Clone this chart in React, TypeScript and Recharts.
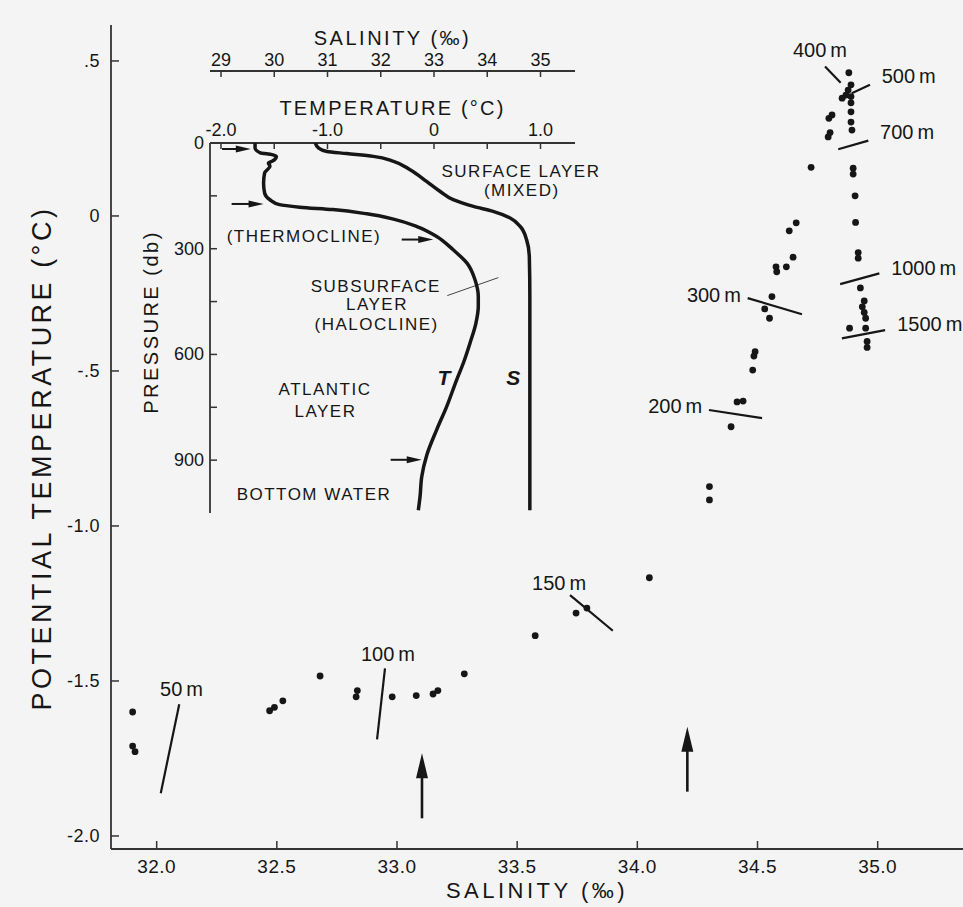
import { ComposedChart, Scatter, XAxis, YAxis, ReferenceLine, ReferenceDot } from "recharts"

const FONT = "'Liberation Sans', Arial, Helvetica, sans-serif"
const INK = "#161616"
const BG = "#f4f4f4"

// T-S diagram: salinity (‰) and potential temperature (°C) of each sample
const salinity = [
  31.9, 31.9, 31.91, 32.47, 32.49, 32.525, 32.68, 32.83, 32.835, 32.98, 33.08, 33.15, 33.17, 33.28,
  33.575, 33.745, 33.79, 34.05,
  34.3, 34.3, 34.39, 34.415, 34.44, 34.49, 34.485, 34.48, 34.56, 34.53, 34.55, 34.577, 34.58, 34.62,
  34.648, 34.632, 34.661, 34.723,
  34.88, 34.889, 34.877, 34.868, 34.852, 34.889, 34.889, 34.889, 34.81, 34.797, 34.802, 34.794, 34.889,
  34.893, 34.898, 34.898, 34.906, 34.908, 34.919, 34.919, 34.928, 34.944, 34.936, 34.944, 34.95, 34.883,
  34.95, 34.956, 34.956,
]
const potentialTemp = [
  -1.6, -1.71, -1.728, -1.596, -1.585, -1.564, -1.484, -1.551, -1.531, -1.551, -1.547, -1.542, -1.531, -1.477,
  -1.354, -1.281, -1.265, -1.167,
  -0.873, -0.916, -0.68, -0.6, -0.597, -0.438, -0.452, -0.497, -0.26, -0.3, -0.33, -0.164, -0.18, -0.164,
  -0.133, -0.048, -0.022, 0.157,
  0.462, 0.423, 0.406, 0.39, 0.38, 0.385, 0.365, 0.336, 0.326, 0.315, 0.269, 0.255, 0.303,
  0.277, 0.154, 0.135, 0.065, -0.021, -0.118, -0.136, -0.232, -0.274, -0.293, -0.311, -0.33, -0.362,
  -0.362, -0.405, -0.424,
]
const tsPoints = salinity.map((s, i) => ({ s, t: potentialTemp[i] }))

const salinityTicks = [32, 32.5, 33, 33.5, 34, 34.5, 35]
const tempTicks = [0.5, 0, -0.5, -1, -1.5, -2]
const tempTickLabels = [".5", "0", "-.5", "-1.0", "-1.5", "-2.0"]

// depth marks along the T-S curve
const depthNames = ["50\u2009m", "100\u2009m", "150\u2009m", "200\u2009m", "300\u2009m", "400\u2009m", "500\u2009m", "700\u2009m", "1000\u2009m", "1500\u2009m"]
const depthStartS = [32.094, 32.95, 33.72, 34.298, 34.459, 34.781, 34.892, 34.836, 34.844, 34.851]
const depthStartT = [-1.575, -1.459, -1.223, -0.626, -0.265, 0.482, 0.396, 0.215, -0.22, -0.395]
const depthEndS = [32.017, 32.917, 33.898, 34.519, 34.685, 34.846, 34.968, 34.961, 35.007, 35.031]
const depthEndT = [-1.862, -1.688, -1.338, -0.652, -0.317, 0.43, 0.423, 0.243, -0.185, -0.368]
const depthTextS = [32.014, 32.85, 33.562, 34.27, 34.431, 34.76, 35.017, 35.01, 35.056, 35.081]
const depthTextT = [-1.548, -1.437, -1.206, -0.635, -0.277, 0.513, 0.429, 0.248, -0.19, -0.371]
const depthAnchor = ["start", "start", "start", "end", "end", "middle", "start", "start", "start", "start"]

// the two upward arrows under the T-S curve
const arrowS = [33.104, 34.208]
const arrowFromT = [-1.943, -1.857]
const arrowToT = [-1.733, -1.648]

// inset: vertical profiles
const profilePressureT = [0, 14, 28, 33, 38, 52, 57, 66, 85, 114, 142, 161, 175, 182, 189, 201, 216, 237, 265, 303, 341, 388, 436, 464, 511, 568, 625, 672, 748, 814, 886, 947, 1004, 1042]
const profileTemp = [-1.68, -1.68, -1.63, -1.52, -1.48, -1.52, -1.555, -1.54, -1.59, -1.6, -1.59, -1.54, -1.45, -1.26, -0.95, -0.63, -0.38, -0.16, 0.025, 0.18, 0.31, 0.385, 0.416, 0.416, 0.394, 0.338, 0.275, 0.213, 0.119, 0.025, -0.068, -0.115, -0.131, -0.147]
const profilePressureS = [0, 14, 24, 30, 38, 52, 76, 109, 137, 161, 180, 194, 213, 237, 275, 322, 436, 720, 1042]
const profileSalinity = [30.77, 30.83, 30.99, 31.36, 31.86, 32.24, 32.55, 32.86, 33.11, 33.36, 33.74, 34.11, 34.43, 34.62, 34.74, 34.79, 34.8, 34.8, 34.8]
const tProfile = profilePressureT.map((p, i) => ({ p, T: profileTemp[i] }))
const sProfile = profilePressureS.map((p, i) => ({ p, S: profileSalinity[i] }))

const insetSalTicks = [29, 30, 31, 32, 33, 34, 35]
const insetTempTicks = [-2, -1.5, -1, -0.5, 0, 0.5, 1]
const pressureTicks = [0, 150, 300, 450, 600, 750, 900]

const insetNotes = ["SURFACE LAYER", "(MIXED)", "(THERMOCLINE)", "SUBSURFACE", "LAYER", "(HALOCLINE)", "ATLANTIC", "LAYER", "BOTTOM WATER"]
const insetNoteT = [0.817, 0.824, -1.221, -0.546, -0.535, -0.538, -1.023, -1.019, -1.127]
const insetNoteP = [96.6, 150.6, 280.4, 422.4, 474.4, 531.3, 715.9, 777.6, 1014]
const curveNames = ["T", "S"]
const curveNameT = [0.094, 0.745]
const curveNameP = [687, 687]

const insetArrowFromT = [-1.99, -1.9, -0.303, -0.407]
const insetArrowToT = [-1.72, -1.6, -0.007, -0.115]
const insetArrowP = [17, 173, 274, 899]
const leaderT = [0.125, 0.604]
const leaderP = [433, 382]

const arrowShape = (head: number, width: number, sw: number) => (p: any) => {
  const { x1, y1, x2, y2 } = p
  const dx = x2 - x1
  const dy = y2 - y1
  const len = Math.hypot(dx, dy) || 1
  const ux = dx / len
  const uy = dy / len
  const bx = x2 - ux * head
  const by = y2 - uy * head
  const px = (-uy * width) / 2
  const py = (ux * width) / 2
  return (
    <g>
      <line x1={x1} y1={y1} x2={bx + ux * 2} y2={by + uy * 2} stroke={INK} strokeWidth={sw} />
      <polygon points={`${x2},${y2} ${bx + px},${by + py} ${bx - px},${by - py}`} fill={INK} />
    </g>
  )
}

const textShape = (label: string, anchor: any, size: number, extra: any = {}) => (p: any) => (
  <text x={p.cx} y={p.cy} textAnchor={anchor} fontSize={size} fill={INK} fontFamily={FONT} {...extra}>
    {label}
  </text>
)

const MainXTick = ({ x, y, payload }: any) => (
  <g>
    <line x1={x} y1={y} x2={x} y2={y - 8} stroke="#333" strokeWidth={1.5} />
    <text x={x} y={y + 24} textAnchor="middle" fontSize={19} fill={INK} fontFamily={FONT} letterSpacing={0.5}>
      {payload.value.toFixed(1)}
    </text>
  </g>
)

const MainYTick = ({ x, y, payload }: any) => (
  <g>
    <line x1={x} y1={y} x2={x + 8} y2={y} stroke="#333" strokeWidth={1.5} />
    <text x={x - 11} y={y + 6.5} textAnchor="end" fontSize={18} fill={INK} fontFamily={FONT} letterSpacing={0.5}>
      {tempTickLabels[tempTicks.indexOf(payload.value)]}
    </text>
  </g>
)

const InsetSalTick = ({ x, y, payload }: any) => (
  <g>
    <line x1={x} y1={y} x2={x} y2={y + 6} stroke="#333" strokeWidth={1.5} />
    <text x={x} y={y - 5} textAnchor="middle" fontSize={18} fill={INK} fontFamily={FONT}>
      {payload.value}
    </text>
  </g>
)

const InsetTempTick = ({ x, y, payload }: any) => (
  <g>
    <line x1={x} y1={y} x2={x} y2={y + 6} stroke="#333" strokeWidth={1.5} />
    {Number.isInteger(payload.value) && (
      <text x={x} y={y - 7} textAnchor="middle" fontSize={18} fill={INK} fontFamily={FONT}>
        {payload.value === 0 ? "0" : payload.value.toFixed(1)}
      </text>
    )}
  </g>
)

const PressureTick = ({ x, y, payload }: any) => (
  <g>
    <line x1={x} y1={y} x2={x + 7} y2={y} stroke="#333" strokeWidth={1.5} />
    {payload.value % 300 === 0 && (
      <text x={x - 6} y={y + 6} textAnchor="end" fontSize={18} fill={INK} fontFamily={FONT}>
        {payload.value}
      </text>
    )}
  </g>
)

const axisLine = { stroke: "#333", strokeWidth: 1.8 }

export default function App() {
  return (
    <div style={{ position: "absolute", left: 0, top: 0, width: 963, height: 907, background: BG, fontFamily: FONT }}>
      <div style={{ position: "absolute", left: 0, top: 0 }}>
        <ComposedChart width={963} height={907} margin={{ top: 25, right: 0, bottom: 0, left: 0 }}>
          <XAxis
            type="number"
            dataKey="s"
            domain={[31.81, 35.355]}
            allowDataOverflow
            ticks={salinityTicks}
            interval={0}
            height={58}
            tickSize={0}
            tickMargin={0}
            tickLine={false}
            axisLine={axisLine}
            tick={MainXTick}
            label={{
              content: ({ viewBox }: any) => (
                <text x={viewBox.x + viewBox.width / 2} y={viewBox.y + 49} textAnchor="middle" fontSize={22} fill={INK} fontFamily={FONT} letterSpacing={3.5}>
                  SALINITY  (‰)
                </text>
              ),
            }}
          />
          <YAxis
            type="number"
            dataKey="t"
            domain={[-2.042, 0.616]}
            allowDataOverflow
            ticks={tempTicks}
            interval={0}
            width={111}
            tickSize={0}
            tickMargin={0}
            tickLine={false}
            axisLine={axisLine}
            tick={MainYTick}
            label={{
              content: () => (
                <text x={42} y={458} transform="rotate(-90, 42, 458)" textAnchor="middle" dominantBaseline="central" fontSize={27} fill={INK} fontFamily={FONT} letterSpacing={3.5}>
                  POTENTIAL TEMPERATURE  (°C)
                </text>
              ),
            }}
          />
          {depthNames.map((name, i) => (
            <ReferenceLine
              key={"dl" + name}
              segment={[
                { x: depthStartS[i], y: depthStartT[i] },
                { x: depthEndS[i], y: depthEndT[i] },
              ]}
              stroke={INK}
              strokeWidth={2.2}
            />
          ))}
          {depthNames.map((name, i) => (
            <ReferenceDot key={"dt" + name} x={depthTextS[i]} y={depthTextT[i]} shape={textShape(name, depthAnchor[i], 20)} />
          ))}
          {arrowS.map((s, i) => (
            <ReferenceLine
              key={"ar" + i}
              segment={[
                { x: s, y: arrowFromT[i] },
                { x: s, y: arrowToT[i] },
              ]}
              shape={arrowShape(25, 12, 2.6)}
            />
          ))}
          <Scatter
            data={tsPoints}
            isAnimationActive={false}
            fill={INK}
            shape={(p: any) => <circle cx={p.cx} cy={p.cy} r={3.4} fill={INK} />}
          />
        </ComposedChart>
      </div>

      <div style={{ position: "absolute", left: 0, top: 0 }}>
        <ComposedChart width={600} height={530} margin={{ top: 21, right: 25, bottom: 17, left: 140 }}>
          <XAxis
            xAxisId="t"
            orientation="top"
            type="number"
            dataKey="T"
            domain={[-2.103, 1.324]}
            allowDataOverflow
            ticks={insetTempTicks}
            interval={0}
            height={72}
            tickSize={0}
            tickMargin={0}
            tickLine={false}
            axisLine={axisLine}
            tick={InsetTempTick}
            label={{
              content: ({ viewBox }: any) => (
                <text x={viewBox.x + viewBox.width / 2} y={viewBox.y + 44} textAnchor="middle" fontSize={20} fill={INK} fontFamily={FONT} letterSpacing={2.2}>
                  TEMPERATURE (°C)
                </text>
              ),
            }}
          />
          <XAxis
            xAxisId="u"
            orientation="top"
            type="number"
            dataKey="S"
            domain={[28.793, 35.648]}
            allowDataOverflow
            ticks={insetSalTicks}
            interval={0}
            height={50}
            tickSize={0}
            tickMargin={0}
            tickLine={false}
            axisLine={axisLine}
            tick={InsetSalTick}
            label={{
              content: ({ viewBox }: any) => (
                <text x={viewBox.x + viewBox.width / 2} y={viewBox.y + 24} textAnchor="middle" fontSize={20} fill={INK} fontFamily={FONT} letterSpacing={2.5}>
                  SALINITY  (‰)
                </text>
              ),
            }}
          />
          <YAxis
            type="number"
            dataKey="p"
            reversed
            domain={[0, 1050]}
            allowDataOverflow
            ticks={pressureTicks}
            interval={0}
            width={70}
            tickSize={0}
            tickMargin={0}
            tickLine={false}
            axisLine={axisLine}
            tick={PressureTick}
            label={{
              content: () => (
                <text x={151} y={322} transform="rotate(-90, 151, 322)" textAnchor="middle" dominantBaseline="central" fontSize={20} fill={INK} fontFamily={FONT} letterSpacing={2.5}>
                  PRESSURE (db)
                </text>
              ),
            }}
          />
          <Scatter
            xAxisId="t"
            data={tProfile}
            isAnimationActive={false}
            line={{ stroke: INK, strokeWidth: 3.5 }}
            lineJointType="monotoneY"
            shape={() => <g />}
          />
          <Scatter
            xAxisId="u"
            data={sProfile}
            isAnimationActive={false}
            line={{ stroke: INK, strokeWidth: 3.5 }}
            lineJointType="monotoneY"
            shape={() => <g />}
          />
          {insetArrowP.map((p, i) => (
            <ReferenceLine
              key={"ia" + i}
              xAxisId="t"
              segment={[
                { x: insetArrowFromT[i], y: p },
                { x: insetArrowToT[i], y: p },
              ]}
              shape={arrowShape(15, 7, 2)}
            />
          ))}
          <ReferenceLine
            xAxisId="t"
            segment={[
              { x: leaderT[0], y: leaderP[0] },
              { x: leaderT[1], y: leaderP[1] },
            ]}
            stroke="#444"
            strokeWidth={1}
          />
          {insetNotes.map((note, i) => (
            <ReferenceDot key={"n" + i} xAxisId="t" x={insetNoteT[i]} y={insetNoteP[i]} shape={textShape(note, "middle", 17, { letterSpacing: 1.5 })} />
          ))}
          {curveNames.map((name, i) => (
            <ReferenceDot
              key={"c" + name}
              xAxisId="t"
              x={curveNameT[i]}
              y={curveNameP[i]}
              shape={textShape(name, "middle", 21, { fontWeight: "bold", fontStyle: "italic" })}
            />
          ))}
        </ComposedChart>
      </div>
    </div>
  )
}
